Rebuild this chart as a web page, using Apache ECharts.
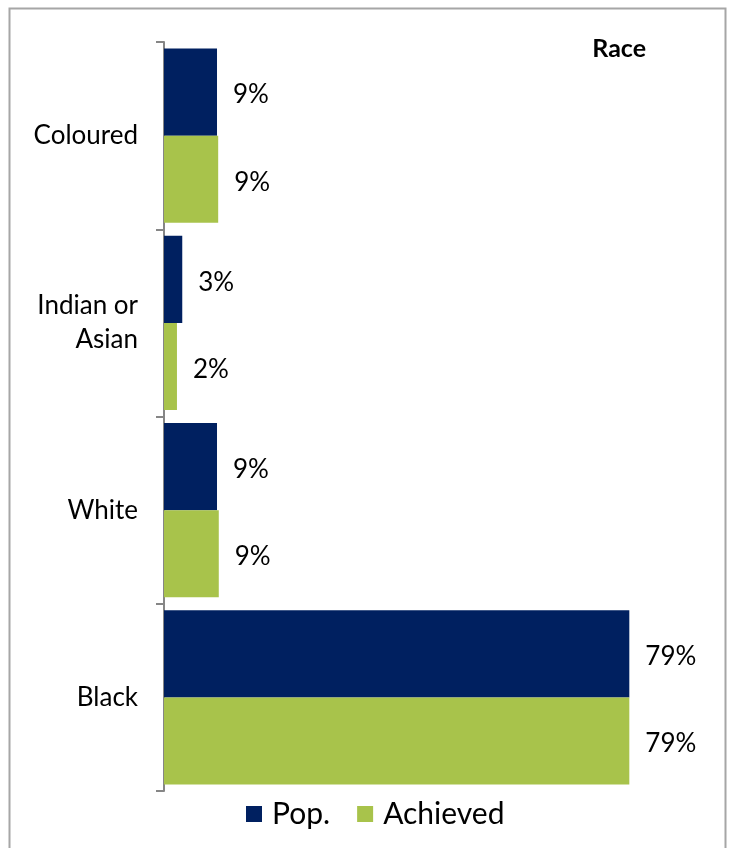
<!DOCTYPE html>
<html>
<head>
<meta charset="utf-8">
<script src="https://cdn.jsdelivr.net/npm/echarts@6/dist/echarts.min.js"></script>
<style>
  html, body { margin: 0; padding: 0; background: #fff; }
  #chart { width: 733px; height: 848px; }
</style>
</head>
<body>
<div id="chart"></div>
<script>
const categories = ["Coloured", "Indian or\nAsian", "White", "Black"];
const popValues = [9.0, 3.1, 9.0, 79.0];
const achievedValues = [9.2, 2.2, 9.3, 79.0];
const seriesNames = ["Pop.", "Achieved"];

const chart = echarts.init(document.getElementById("chart"));

const font = "Lato";
const labelStyle = {
    show: true,
    position: "right",
    distance: 16,
    offset: [0, 3],
    fontFamily: font,
    fontSize: 26,
    color: "#000",
    formatter: p => Math.round(p.value) + "%"
};

chart.setOption({
    animation: false,
    title: {
        text: "Race",
        right: 82,
        top: 31,
        textStyle: { fontFamily: font, fontSize: 25, fontWeight: "bold", color: "#000" }
    },
    graphic: [{
        type: "rect",
        shape: { x: 9.5, y: 8.5, width: 716, height: 850 },
        style: { fill: "none", stroke: "#a6a6a6", lineWidth: 2 },
        silent: true
    }],
    legend: {
        data: seriesNames,
        top: 794,
        left: 241,
        icon: "rect",
        itemWidth: 16,
        itemHeight: 16,
        itemGap: 27,
        textStyle: { fontFamily: font, fontSize: 30, color: "#000", padding: [0, 0, 0, 5] }
    },
    grid: { left: 164, right: 33, top: 42, bottom: 57, containLabel: false },
    xAxis: {
        type: "value",
        min: 0,
        max: 91,
        show: false
    },
    yAxis: {
        type: "category",
        data: categories,
        inverse: true,
        axisLine: { show: true, lineStyle: { color: "#868686", width: 2 } },
        axisTick: { show: true, length: 8, lineStyle: { color: "#868686", width: 2 } },
        axisLabel: {
            margin: 26,
            fontFamily: font,
            fontSize: 26,
            lineHeight: 34,
            color: "#000",
            align: "right"
        }
    },
    series: [
        {
            name: seriesNames[0],
            type: "bar",
            data: popValues,
            barGap: "0%",
            barCategoryGap: "7%",
            itemStyle: { color: "#002060" },
            label: labelStyle
        },
        {
            name: seriesNames[1],
            type: "bar",
            data: achievedValues,
            itemStyle: { color: "#a8c34b" },
            label: labelStyle
        }
    ]
});
</script>
</body>
</html>
